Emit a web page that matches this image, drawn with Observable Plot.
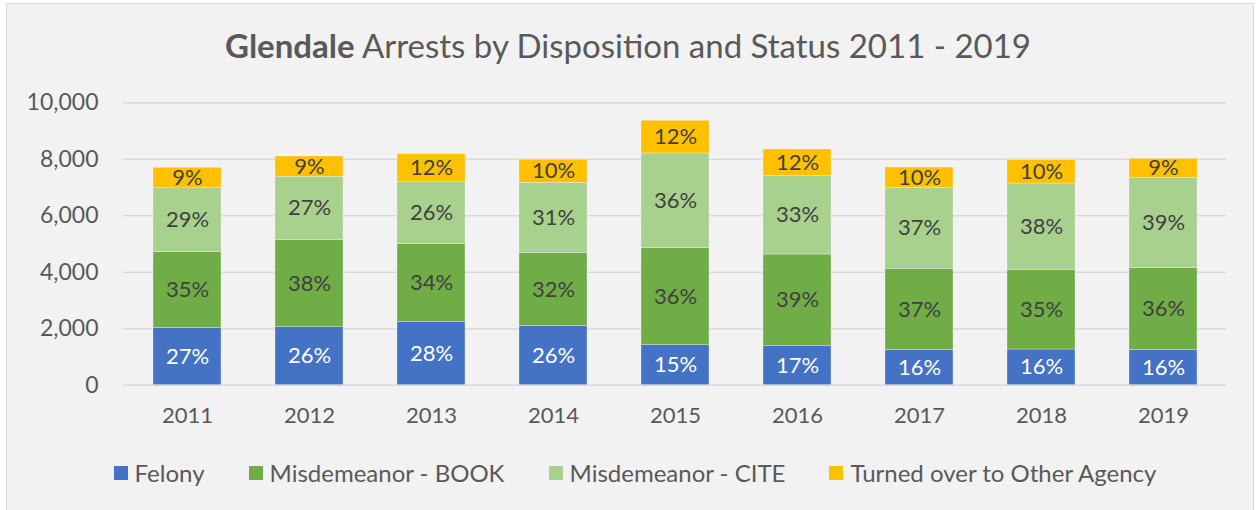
<!DOCTYPE html>
<html><head><meta charset="utf-8">
<script src="https://cdn.jsdelivr.net/npm/d3@7"></script>
<script src="https://cdn.jsdelivr.net/npm/@observablehq/plot@0.6"></script>
<style>
body{margin:0;background:#fff;width:1256px;height:510px;overflow:hidden;position:relative;font-family:Lato,sans-serif;}
#frame{position:absolute;left:6px;top:3px;width:1248px;height:530px;background:#f2f2f2;border:1.5px solid #d9d9d9;box-sizing:border-box}
#title{position:absolute;left:0;width:1256px;top:25px;text-align:center;font-size:33px;color:#595959;white-space:nowrap}
#title b{font-weight:700}
#chart{position:absolute;left:0;top:0}
#legend{position:absolute;top:458px;left:0;width:1270px;display:flex;justify-content:center;gap:44px;font-size:24px;color:#595959}
#legend .it{display:flex;align-items:center;gap:7px;white-space:nowrap}
#legend .sw{width:14px;height:14px;display:inline-block}
</style></head>
<body>
<div id="frame"></div>
<div id="title"><b>Glendale</b> Arrests by Disposition and Status 2011 - 2019</div>
<div id="chart"></div>
<div id="legend"></div>
<script>
const years = ["2011","2012","2013","2014","2015","2016","2017","2018","2019"];
const seriesNames = ["Felony","Misdemeanor - BOOK","Misdemeanor - CITE","Turned over to Other Agency"];
const seriesColors = ["#4472C4","#70AD47","#A9D18E","#FFC000"];
const felony = [2033, 2054, 2231, 2103, 1416, 1381, 1239, 1264, 1239];
const book   = [2677, 3095, 2762, 2571, 3435, 3247, 2883, 2822, 2904];
const cite   = [2266, 2231, 2195, 2493, 3354, 2773, 2868, 3056, 3201];
const other  = [722, 718, 992, 814, 1158, 945, 719, 825, 673];
const felonyPct = ["27%","26%","28%","26%","15%","17%","16%","16%","16%"];
const bookPct   = ["35%","38%","34%","32%","36%","39%","37%","35%","36%"];
const citePct   = ["29%","27%","26%","31%","36%","33%","37%","38%","39%"];
const otherPct  = ["9%","9%","12%","10%","12%","12%","10%","10%","9%"];
const yTicks = [0, 2000, 4000, 6000, 8000, 10000];

const valueSets = [felony, book, cite, other];
const pctSets = [felonyPct, bookPct, citePct, otherPct];
const data = [];
seriesNames.forEach((s, si) => {
  years.forEach((yr, i) => {
    data.push({year: yr, series: s, value: valueSets[si][i], label: pctSets[si][i]});
  });
});

const chart = Plot.plot({
  width: 1256,
  height: 440,
  marginTop: 102.3,
  marginBottom: 55.3,
  marginLeft: 123,
  marginRight: 30,
  style: {background: "transparent", fontFamily: "Lato, sans-serif", fontSize: "22px", color: "#595959"},
  x: {domain: years, paddingInner: 0.445, paddingOuter: 0.2225, label: null, tickSize: 0, tickPadding: 22},
  y: {domain: [0, 10000], label: null, ticks: yTicks, tickSize: 0, tickPadding: 25, tickFormat: d3.format(",")},
  color: {domain: seriesNames, range: seriesColors},
  marks: [
    Plot.ruleY(yTicks, {stroke: "#d9d9d9", strokeWidth: 1.5}),
    Plot.barY(data, Plot.stackY({x: "year", y: "value", fill: "series", stroke: "#f2f2f2", strokeWidth: 0.6, strokeOpacity: 0.6})),
    Plot.text(data, Plot.stackY({x: "year", y: "value", text: "label", fill: d => d.series === "Felony" ? "#ffffff" : "#404040", fontSize: 22})),
    Plot.axisX({tickSize: 0, tickPadding: 22, fontSize: 22, color: "#595959"}),
    Plot.axisY({ticks: yTicks, tickSize: 0, tickPadding: 25, tickFormat: d3.format(","), fontSize: 23, color: "#595959"})
  ]
});
document.getElementById("chart").appendChild(chart);

const lg = document.getElementById("legend");
seriesNames.forEach((s, i) => {
  const it = document.createElement("div");
  it.className = "it";
  const sw = document.createElement("span");
  sw.className = "sw";
  sw.style.background = seriesColors[i];
  const t = document.createElement("span");
  t.textContent = s;
  it.appendChild(sw); it.appendChild(t);
  lg.appendChild(it);
});
</script>
</body></html>
